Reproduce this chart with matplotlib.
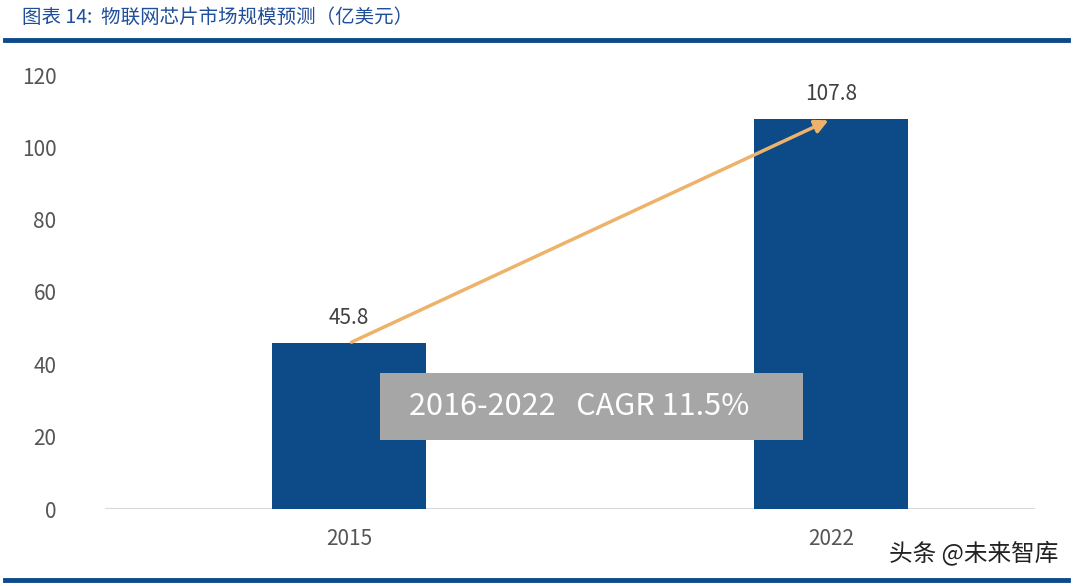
import matplotlib.pyplot as plt
from matplotlib.patches import FancyArrowPatch, Rectangle

plt.rcParams['font.family'] = ['Noto Sans CJK SC', 'DejaVu Sans']

years = ['2015', '2022']
values = [45.8, 107.8]
cagr_text = '2016-2022   CAGR 11.5%'
title = '图表 14:  物联网芯片市场规模预测（亿美元）'

fig = plt.figure(figsize=(10.74, 5.86), dpi=100)
ax = fig.add_axes([105 / 1074, 1 - 509 / 586, 930 / 1074, 434 / 586])

x = list(range(len(years)))
ax.bar(x, values, width=0.32, color='#0D4A88', zorder=2)
for xi, v in zip(x, values):
    ax.text(xi, v + 4, f'{v:.1f}', ha='center', va='bottom', fontsize=15, color='#404040')

ax.set_xlim(-0.506, 1.423)
ax.set_ylim(0, 120)
ax.set_yticks(range(0, 121, 20))
ax.set_xticks(x)
ax.set_xticklabels(years)
ax.tick_params(axis='both', length=0, labelsize=15, labelcolor='#555555')
ax.tick_params(axis='y', pad=35)
ax.tick_params(axis='x', pad=14)
for s in ax.spines.values():
    s.set_visible(False)
ax.axhline(0, color='#D9D9D9', lw=1.5, zorder=1)

arrow = FancyArrowPatch((x[0], values[0]), (x[1], values[1]), arrowstyle='-|>,head_length=8,head_width=4',
                        color='#EDB36B', lw=2.5, zorder=3)
ax.add_patch(arrow)
ax.add_patch(Rectangle((0.064, 19.1), 0.878, 18.5, fc='#A6A6A6', ec='none', zorder=4))
ax.text(0.477, 28.3, cagr_text, ha='center', va='center', fontsize=22, color='white', zorder=5)

fig.text(22 / 1074, 1 - 17 / 586, title, fontsize=14, color='#1F4E9A', style='italic', va='center')
fig.add_artist(plt.Line2D([5 / 1074, 1068 / 1074], [1 - 40 / 586] * 2, color='#0D4A88', lw=3.5))
fig.add_artist(plt.Line2D([5 / 1074, 1068 / 1074], [1 - 580 / 586] * 2, color='#0D4A88', lw=3.5))
fig.text(1058 / 1074, 1 - 553 / 586, '头条 @未来智库', fontsize=17, color='#222222', ha='right', va='center')

fig.savefig('out.png')
